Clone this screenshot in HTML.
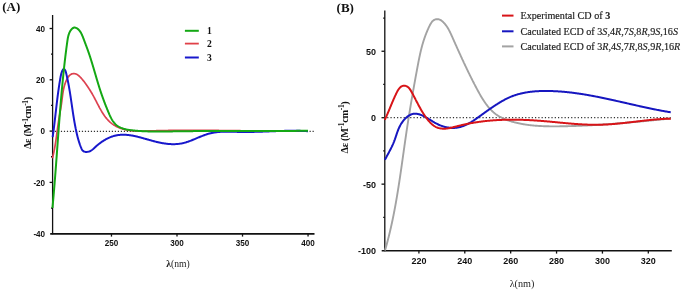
<!DOCTYPE html>
<html><head><meta charset="utf-8"><style>
html,body{margin:0;padding:0;background:#fff;}
body{width:685px;height:295px;overflow:hidden;font-family:"Liberation Sans",sans-serif;}
svg{display:block;will-change:transform;}
</style></head><body>
<svg width="685" height="295" viewBox="0 0 685 295">
<g stroke="#111" stroke-width="1.3" fill="none" stroke-linecap="butt">
<line x1="52.6" y1="15" x2="52.6" y2="234.3"/>
<line x1="50.2" y1="233.85" x2="314.5" y2="233.85" stroke-width="1.6"/>
<line x1="49.60" y1="28.50" x2="52.60" y2="28.50"/><line x1="49.60" y1="79.80" x2="52.60" y2="79.80"/><line x1="49.60" y1="131.10" x2="52.60" y2="131.10"/><line x1="49.60" y1="182.40" x2="52.60" y2="182.40"/>
<line x1="51.00" y1="54.15" x2="52.60" y2="54.15"/><line x1="51.00" y1="105.45" x2="52.60" y2="105.45"/><line x1="51.00" y1="156.75" x2="52.60" y2="156.75"/><line x1="51.00" y1="208.05" x2="52.60" y2="208.05"/>
<line x1="111.47" y1="233.80" x2="111.47" y2="236.60"/><line x1="177.00" y1="233.80" x2="177.00" y2="236.60"/><line x1="242.52" y1="233.80" x2="242.52" y2="236.60"/><line x1="308.05" y1="233.80" x2="308.05" y2="236.60"/>
</g>
<line x1="51.9" y1="131.35" x2="313.8" y2="131.35" stroke="#333" stroke-width="1.2" stroke-dasharray="1.2,1.796"/>
<path d="M52.42,158.29 L52.57,157.71 L52.72,157.13 L52.86,156.55 L53.01,155.96 L53.15,155.38 L53.28,154.80 L53.42,154.21 L53.55,153.63 L53.68,153.04 L53.80,152.46 L53.93,151.87 L54.05,151.28 L54.16,150.70 L54.28,150.11 L54.39,149.52 L54.50,148.93 L54.61,148.34 L54.72,147.75 L54.82,147.16 L54.93,146.57 L55.03,145.98 L55.13,145.39 L55.22,144.80 L55.32,144.21 L55.41,143.61 L55.51,143.02 L55.60,142.43 L55.69,141.84 L55.78,141.25 L55.86,140.65 L55.95,140.06 L56.04,139.47 L56.12,138.87 L56.20,138.28 L56.29,137.69 L56.37,137.09 L56.45,136.50 L56.53,135.90 L56.61,135.31 L56.69,134.72 L56.77,134.12 L56.85,133.53 L56.93,132.93 L57.01,132.34 L57.09,131.75 L57.16,131.15 L57.24,130.56 L57.32,129.96 L57.40,129.37 L57.48,128.78 L57.56,128.18 L57.64,127.59 L57.72,127.00 L57.81,126.40 L57.89,125.81 L57.97,125.21 L58.06,124.62 L58.14,124.03 L58.23,123.44 L58.32,122.84 L58.40,122.25 L58.49,121.66 L58.58,121.06 L58.68,120.47 L58.77,119.88 L58.87,119.29 L58.96,118.70 L59.06,118.11 L59.16,117.52 L59.26,116.92 L59.36,116.33 L59.46,115.74 L59.57,115.15 L59.67,114.56 L59.77,113.97 L59.88,113.38 L59.98,112.79 L60.08,112.20 L60.19,111.61 L60.29,111.02 L60.39,110.43 L60.49,109.84 L60.60,109.25 L60.70,108.66 L60.80,108.07 L60.89,107.48 L60.99,106.89 L61.09,106.29 L61.18,105.70 L61.27,105.11 L61.36,104.52 L61.45,103.92 L61.54,103.33 L61.62,102.74 L61.70,102.14 L61.78,101.55 L61.86,100.96 L61.94,100.36 L62.01,99.77 L62.08,99.17 L62.16,98.58 L62.23,97.98 L62.30,97.39 L62.38,96.79 L62.45,96.20 L62.53,95.60 L62.61,95.01 L62.69,94.42 L62.78,93.82 L62.86,93.23 L62.96,92.64 L63.05,92.05 L63.15,91.46 L63.25,90.87 L63.36,90.28 L63.48,89.69 L63.60,89.10 L63.73,88.52 L63.86,87.93 L64.00,87.35 L64.14,86.77 L64.30,86.19 L64.46,85.61 L64.63,85.04 L64.81,84.46 L64.99,83.89 L65.19,83.33 L65.39,82.76 L65.60,82.20 L65.82,81.64 L66.04,81.09 L66.28,80.54 L66.53,79.99 L66.79,79.45 L67.06,78.92 L67.35,78.39 L67.65,77.88 L67.97,77.37 L68.31,76.87 L68.67,76.40 L69.05,75.93 L69.46,75.50 L69.90,75.09 L70.37,74.71 L70.86,74.38 L71.39,74.10 L71.95,73.88 L72.53,73.72 L73.12,73.63 L73.72,73.59 L74.32,73.62 L74.91,73.71 L75.49,73.85 L76.06,74.05 L76.60,74.29 L77.13,74.57 L77.64,74.89 L78.13,75.23 L78.60,75.60 L79.06,75.99 L79.51,76.39 L79.94,76.80 L80.36,77.23 L80.77,77.66 L81.18,78.11 L81.57,78.56 L81.96,79.01 L82.35,79.47 L82.73,79.94 L83.10,80.40 L83.48,80.87 L83.85,81.34 L84.22,81.81 L84.58,82.29 L84.94,82.77 L85.30,83.25 L85.66,83.73 L86.01,84.21 L86.36,84.70 L86.71,85.19 L87.05,85.68 L87.39,86.17 L87.73,86.67 L88.07,87.16 L88.40,87.66 L88.73,88.16 L89.05,88.67 L89.38,89.17 L89.70,89.68 L90.01,90.19 L90.33,90.70 L90.64,91.21 L90.95,91.72 L91.25,92.24 L91.56,92.75 L91.86,93.27 L92.16,93.79 L92.45,94.31 L92.75,94.84 L93.04,95.36 L93.33,95.88 L93.62,96.41 L93.90,96.94 L94.19,97.46 L94.47,97.99 L94.75,98.52 L95.03,99.05 L95.31,99.58 L95.59,100.11 L95.86,100.64 L96.14,101.18 L96.41,101.71 L96.69,102.24 L96.96,102.77 L97.24,103.31 L97.51,103.84 L97.79,104.37 L98.06,104.90 L98.34,105.43 L98.62,105.96 L98.90,106.49 L99.18,107.02 L99.47,107.55 L99.75,108.08 L100.04,108.60 L100.33,109.13 L100.62,109.65 L100.92,110.17 L101.22,110.69 L101.53,111.20 L101.83,111.72 L102.14,112.23 L102.46,112.74 L102.78,113.25 L103.10,113.75 L103.43,114.25 L103.77,114.75 L104.11,115.24 L104.45,115.73 L104.80,116.22 L105.16,116.70 L105.52,117.18 L105.89,117.65 L106.27,118.12 L106.65,118.58 L107.04,119.03 L107.44,119.48 L107.84,119.93 L108.25,120.36 L108.67,120.79 L109.09,121.21 L109.53,121.63 L109.97,122.03 L110.42,122.43 L110.88,122.82 L111.34,123.19 L111.81,123.56 L112.29,123.92 L112.78,124.27 L113.28,124.61 L113.78,124.93 L114.29,125.25 L114.80,125.56 L115.32,125.86 L115.84,126.15 L116.37,126.43 L116.91,126.70 L117.45,126.96 L117.99,127.21 L118.54,127.46 L119.09,127.69 L119.65,127.91 L120.21,128.13 L120.77,128.34 L121.33,128.54 L121.90,128.73 L122.47,128.91 L123.05,129.08 L123.62,129.25 L124.20,129.41 L124.78,129.56 L125.36,129.70 L125.95,129.83 L126.53,129.95 L127.12,130.07 L127.71,130.18 L128.30,130.28 L128.89,130.38 L129.48,130.47 L130.08,130.55 L130.67,130.63 L131.27,130.70 L131.86,130.76 L132.46,130.82 L133.06,130.87 L133.65,130.92 L134.25,130.96 L134.85,131.00 L135.45,131.03 L136.05,131.06 L136.65,131.08 L137.24,131.10 L137.84,131.11 L138.44,131.13 L139.04,131.13 L139.64,131.14 L140.24,131.14 L140.84,131.14 L141.44,131.13 L142.04,131.13 L142.64,131.12 L143.24,131.11 L143.84,131.10 L144.44,131.08 L145.03,131.07 L145.63,131.05 L146.23,131.03 L146.83,131.01 L147.43,130.99 L148.03,130.97 L148.63,130.95 L149.23,130.93 L149.83,130.91 L150.43,130.89 L151.02,130.87 L151.62,130.86 L152.22,130.84 L152.82,130.82 L153.42,130.80 L154.02,130.78 L154.62,130.77 L155.22,130.75 L155.82,130.73 L156.42,130.72 L157.01,130.70 L157.61,130.69 L158.21,130.67 L158.81,130.66 L159.41,130.64 L160.01,130.63 L160.61,130.62 L161.21,130.60 L161.81,130.59 L162.41,130.58 L163.01,130.57 L163.60,130.55 L164.20,130.54 L164.80,130.53 L165.40,130.52 L166.00,130.51 L166.60,130.50 L167.20,130.49 L167.80,130.48 L168.40,130.47 L169.00,130.46 L169.60,130.45 L170.20,130.44 L170.79,130.43 L171.39,130.43 L171.99,130.42 L172.59,130.41 L173.19,130.40 L173.79,130.40 L174.39,130.39 L174.99,130.38 L175.59,130.38 L176.19,130.37 L176.79,130.37 L177.39,130.36 L177.99,130.35 L178.58,130.35 L179.18,130.35 L179.78,130.34 L180.38,130.34 L180.98,130.33 L181.58,130.33 L182.18,130.33 L182.78,130.32 L183.38,130.32 L183.98,130.32 L184.58,130.32 L185.18,130.31 L185.78,130.31 L186.38,130.31 L186.97,130.31 L187.57,130.31 L188.17,130.31 L188.77,130.30 L189.37,130.30 L189.97,130.30 L190.57,130.30 L191.17,130.30 L191.77,130.30 L192.37,130.30 L192.97,130.30 L193.57,130.30 L194.17,130.31 L194.77,130.31 L195.36,130.31 L195.96,130.31 L196.56,130.31 L197.16,130.31 L197.76,130.31 L198.36,130.32 L198.96,130.32 L199.56,130.32 L200.16,130.32 L200.76,130.33 L201.36,130.33 L201.96,130.33 L202.56,130.34 L203.15,130.34 L203.75,130.34 L204.35,130.35 L204.95,130.35 L205.55,130.35 L206.15,130.36 L206.75,130.36 L207.35,130.37 L207.95,130.37 L208.55,130.38 L209.15,130.38 L209.75,130.38 L210.35,130.39 L210.95,130.39 L211.54,130.40 L212.14,130.40 L212.74,130.41 L213.34,130.42 L213.94,130.42 L214.54,130.43 L215.14,130.43 L215.74,130.44 L216.34,130.44 L216.94,130.45 L217.54,130.46 L218.14,130.46 L218.74,130.47 L219.33,130.48 L219.93,130.48 L220.53,130.49 L221.13,130.49 L221.73,130.50 L222.33,130.51 L222.93,130.51 L223.53,130.52 L224.13,130.53 L224.73,130.53 L225.33,130.54 L225.93,130.55 L226.53,130.56 L227.12,130.56 L227.72,130.57 L228.32,130.58 L228.92,130.58 L229.52,130.59 L230.12,130.60 L230.72,130.61 L231.32,130.61 L231.92,130.62 L232.52,130.63 L233.12,130.63 L233.72,130.64 L234.32,130.65 L234.91,130.66 L235.51,130.66 L236.11,130.67 L236.71,130.68 L237.31,130.69 L237.91,130.69 L238.51,130.70 L239.11,130.71 L239.71,130.72 L240.31,130.72 L240.91,130.73 L241.51,130.74 L242.11,130.74 L242.70,130.75 L243.30,130.76 L243.90,130.77 L244.50,130.77 L245.10,130.78 L245.70,130.79 L246.30,130.79 L246.90,130.80 L247.50,130.81 L248.10,130.81 L248.70,130.82 L249.30,130.83 L249.90,130.83 L250.49,130.84 L251.09,130.85 L251.69,130.85 L252.29,130.86 L252.89,130.87 L253.49,130.87 L254.09,130.88 L254.69,130.88 L255.29,130.89 L255.89,130.90 L256.49,130.90 L257.09,130.91 L257.69,130.91 L258.28,130.92 L258.88,130.92 L259.48,130.93 L260.08,130.93 L260.68,130.94 L261.28,130.94 L261.88,130.95 L262.48,130.95 L263.08,130.96 L263.68,130.96 L264.28,130.97 L264.88,130.97 L265.48,130.97 L266.07,130.98 L266.67,130.98 L267.27,130.99 L267.87,130.99 L268.47,130.99 L269.07,131.00 L269.67,131.00 L270.27,131.00 L270.87,131.00 L271.47,131.01 L272.07,131.01 L272.67,131.01 L273.27,131.01 L273.87,131.02 L274.46,131.02 L275.06,131.02 L275.66,131.02 L276.26,131.02 L276.86,131.02 L277.46,131.02 L278.06,131.02 L278.66,131.02 L279.26,131.02 L279.86,131.02 L280.46,131.02 L281.06,131.02 L281.66,131.02 L282.26,131.02 L282.85,131.02 L283.45,131.02 L284.05,131.02 L284.65,131.02 L285.25,131.02 L285.85,131.01 L286.45,131.01 L287.05,131.01 L287.65,131.01 L288.25,131.00 L288.85,131.00 L289.45,131.00 L290.05,130.99 L290.64,130.99 L291.24,130.99 L291.84,130.98 L292.44,130.98 L293.04,130.97 L293.64,130.97 L294.24,130.96 L294.84,130.96 L295.44,130.95 L296.04,130.94 L296.64,130.94 L297.24,130.93 L297.84,130.92 L298.43,130.92 L299.03,130.91 L299.63,130.90 L300.23,130.89 L300.83,130.88 L301.43,130.88 L302.03,130.87 L302.63,130.86 L303.23,130.85 L303.83,130.84 L304.43,130.83 L305.03,130.82 L305.63,130.81 L306.22,130.80 L306.82,130.78 L307.42,130.77 L308.02,130.76" stroke="#dd4250" stroke-width="1.7" fill="none"/>
<path d="M52.65,137.05 L52.74,136.46 L52.82,135.87 L52.91,135.27 L52.99,134.68 L53.07,134.08 L53.16,133.49 L53.24,132.90 L53.32,132.30 L53.40,131.71 L53.48,131.11 L53.56,130.52 L53.63,129.92 L53.71,129.33 L53.79,128.73 L53.86,128.14 L53.94,127.54 L54.01,126.95 L54.09,126.35 L54.16,125.76 L54.23,125.16 L54.31,124.57 L54.38,123.97 L54.45,123.38 L54.52,122.78 L54.59,122.19 L54.67,121.59 L54.74,121.00 L54.81,120.40 L54.88,119.80 L54.95,119.21 L55.01,118.61 L55.08,118.02 L55.15,117.42 L55.22,116.83 L55.29,116.23 L55.36,115.64 L55.43,115.04 L55.49,114.44 L55.56,113.85 L55.63,113.25 L55.70,112.66 L55.77,112.06 L55.84,111.46 L55.90,110.87 L55.97,110.27 L56.04,109.68 L56.11,109.08 L56.18,108.49 L56.25,107.89 L56.31,107.29 L56.38,106.70 L56.45,106.10 L56.52,105.51 L56.59,104.91 L56.66,104.32 L56.73,103.72 L56.80,103.12 L56.87,102.53 L56.95,101.93 L57.02,101.34 L57.09,100.74 L57.16,100.15 L57.24,99.55 L57.31,98.96 L57.38,98.36 L57.46,97.77 L57.53,97.17 L57.61,96.58 L57.69,95.98 L57.76,95.39 L57.84,94.79 L57.92,94.20 L58.00,93.60 L58.08,93.01 L58.16,92.42 L58.24,91.82 L58.32,91.23 L58.40,90.63 L58.49,90.04 L58.57,89.45 L58.66,88.85 L58.74,88.26 L58.83,87.67 L58.92,87.07 L59.00,86.48 L59.09,85.89 L59.18,85.29 L59.28,84.70 L59.37,84.11 L59.46,83.52 L59.56,82.92 L59.65,82.33 L59.75,81.74 L59.85,81.15 L59.95,80.56 L60.05,79.97 L60.15,79.38 L60.25,78.78 L60.35,78.19 L60.46,77.60 L60.56,77.01 L60.67,76.42 L60.79,75.84 L60.91,75.25 L61.04,74.66 L61.19,74.08 L61.34,73.50 L61.51,72.93 L61.70,72.36 L61.90,71.79 L62.13,71.24 L62.37,70.69 L62.65,70.16 L62.97,69.65 L63.39,69.23 L63.96,69.13 L64.48,69.42 L64.89,69.85 L65.22,70.36 L65.47,70.90 L65.68,71.46 L65.85,72.04 L66.01,72.62 L66.15,73.20 L66.29,73.78 L66.43,74.37 L66.57,74.95 L66.70,75.53 L66.83,76.12 L66.96,76.70 L67.09,77.29 L67.22,77.88 L67.35,78.46 L67.47,79.05 L67.59,79.64 L67.72,80.22 L67.84,80.81 L67.95,81.40 L68.07,81.99 L68.19,82.58 L68.30,83.16 L68.41,83.75 L68.52,84.34 L68.63,84.93 L68.74,85.52 L68.85,86.11 L68.95,86.70 L69.06,87.29 L69.16,87.88 L69.26,88.47 L69.36,89.07 L69.46,89.66 L69.56,90.25 L69.66,90.84 L69.76,91.43 L69.86,92.02 L69.95,92.61 L70.05,93.21 L70.14,93.80 L70.23,94.39 L70.33,94.98 L70.42,95.58 L70.51,96.17 L70.60,96.76 L70.69,97.36 L70.78,97.95 L70.87,98.54 L70.95,99.13 L71.04,99.73 L71.13,100.32 L71.22,100.91 L71.30,101.51 L71.39,102.10 L71.48,102.69 L71.56,103.29 L71.65,103.88 L71.74,104.47 L71.82,105.07 L71.91,105.66 L72.00,106.25 L72.08,106.85 L72.17,107.44 L72.26,108.04 L72.34,108.63 L72.43,109.22 L72.52,109.82 L72.60,110.41 L72.69,111.00 L72.78,111.59 L72.87,112.19 L72.96,112.78 L73.05,113.37 L73.14,113.97 L73.23,114.56 L73.32,115.15 L73.42,115.74 L73.51,116.34 L73.61,116.93 L73.70,117.52 L73.80,118.11 L73.89,118.70 L73.99,119.30 L74.09,119.89 L74.19,120.48 L74.29,121.07 L74.39,121.66 L74.50,122.25 L74.60,122.84 L74.71,123.43 L74.82,124.02 L74.92,124.61 L75.03,125.20 L75.15,125.79 L75.26,126.38 L75.37,126.97 L75.49,127.56 L75.61,128.14 L75.72,128.73 L75.85,129.32 L75.97,129.91 L76.09,130.49 L76.22,131.08 L76.34,131.67 L76.47,132.25 L76.60,132.84 L76.74,133.42 L76.87,134.01 L77.01,134.59 L77.15,135.17 L77.30,135.75 L77.44,136.34 L77.59,136.92 L77.74,137.50 L77.90,138.08 L78.06,138.65 L78.22,139.23 L78.39,139.81 L78.56,140.38 L78.73,140.96 L78.91,141.53 L79.09,142.10 L79.27,142.67 L79.46,143.24 L79.66,143.81 L79.85,144.37 L80.06,144.94 L80.26,145.50 L80.48,146.06 L80.69,146.62 L80.92,147.18 L81.14,147.73 L81.38,148.29 L81.61,148.84 L81.87,149.38 L82.16,149.90 L82.50,150.40 L82.90,150.84 L83.38,151.20 L83.91,151.47 L84.48,151.66 L85.07,151.80 L85.66,151.88 L86.26,151.92 L86.86,151.91 L87.46,151.87 L88.05,151.78 L88.63,151.64 L89.21,151.47 L89.77,151.25 L90.31,151.00 L90.84,150.71 L91.35,150.40 L91.84,150.06 L92.32,149.70 L92.79,149.33 L93.25,148.94 L93.70,148.54 L94.14,148.14 L94.58,147.73 L95.02,147.33 L95.46,146.92 L95.91,146.51 L96.35,146.11 L96.80,145.72 L97.26,145.33 L97.72,144.94 L98.18,144.56 L98.65,144.18 L99.12,143.81 L99.59,143.45 L100.07,143.09 L100.56,142.73 L101.04,142.38 L101.53,142.04 L102.03,141.70 L102.53,141.36 L103.03,141.04 L103.54,140.72 L104.05,140.40 L104.56,140.09 L105.08,139.79 L105.60,139.49 L106.13,139.21 L106.66,138.92 L107.19,138.65 L107.72,138.38 L108.26,138.12 L108.81,137.87 L109.36,137.62 L109.91,137.39 L110.46,137.16 L111.02,136.94 L111.58,136.73 L112.15,136.53 L112.72,136.34 L113.29,136.16 L113.86,135.99 L114.44,135.83 L115.02,135.68 L115.60,135.54 L116.19,135.41 L116.78,135.29 L117.37,135.19 L117.96,135.10 L118.55,135.01 L119.15,134.94 L119.75,134.88 L120.34,134.83 L120.94,134.78 L121.54,134.75 L122.14,134.73 L122.74,134.72 L123.34,134.72 L123.94,134.72 L124.54,134.74 L125.14,134.76 L125.74,134.79 L126.34,134.83 L126.93,134.88 L127.53,134.93 L128.13,134.99 L128.72,135.06 L129.32,135.14 L129.91,135.22 L130.51,135.30 L131.10,135.40 L131.69,135.49 L132.28,135.60 L132.87,135.71 L133.46,135.82 L134.05,135.94 L134.63,136.06 L135.22,136.19 L135.81,136.32 L136.39,136.45 L136.97,136.59 L137.56,136.73 L138.14,136.87 L138.72,137.02 L139.30,137.17 L139.88,137.32 L140.46,137.47 L141.04,137.63 L141.62,137.78 L142.20,137.94 L142.78,138.10 L143.35,138.26 L143.93,138.43 L144.51,138.59 L145.08,138.75 L145.66,138.92 L146.24,139.08 L146.81,139.25 L147.39,139.42 L147.97,139.58 L148.54,139.75 L149.12,139.91 L149.70,140.07 L150.27,140.24 L150.85,140.40 L151.43,140.56 L152.01,140.72 L152.58,140.88 L153.16,141.03 L153.74,141.19 L154.32,141.34 L154.90,141.49 L155.49,141.64 L156.07,141.78 L156.65,141.92 L157.23,142.06 L157.82,142.19 L158.40,142.33 L158.99,142.46 L159.58,142.58 L160.16,142.70 L160.75,142.82 L161.34,142.94 L161.93,143.05 L162.52,143.15 L163.11,143.25 L163.70,143.35 L164.29,143.44 L164.89,143.53 L165.48,143.61 L166.08,143.69 L166.67,143.76 L167.27,143.83 L167.86,143.89 L168.46,143.95 L169.06,144.00 L169.66,144.04 L170.25,144.08 L170.85,144.11 L171.45,144.14 L172.05,144.16 L172.65,144.17 L173.25,144.17 L173.85,144.17 L174.45,144.16 L175.05,144.14 L175.65,144.12 L176.25,144.08 L176.85,144.04 L177.44,144.00 L178.04,143.94 L178.64,143.87 L179.23,143.80 L179.83,143.72 L180.42,143.63 L181.01,143.53 L181.60,143.42 L182.19,143.31 L182.77,143.18 L183.36,143.05 L183.94,142.90 L184.52,142.75 L185.10,142.59 L185.68,142.43 L186.25,142.25 L186.82,142.07 L187.39,141.89 L187.96,141.69 L188.53,141.50 L189.09,141.29 L189.65,141.09 L190.22,140.88 L190.78,140.66 L191.33,140.45 L191.89,140.22 L192.45,140.00 L193.00,139.77 L193.56,139.55 L194.11,139.32 L194.67,139.09 L195.22,138.85 L195.77,138.62 L196.32,138.39 L196.88,138.15 L197.43,137.92 L197.98,137.68 L198.53,137.45 L199.09,137.22 L199.64,136.99 L200.19,136.76 L200.75,136.53 L201.30,136.31 L201.86,136.09 L202.42,135.87 L202.98,135.65 L203.54,135.44 L204.10,135.23 L204.66,135.02 L205.23,134.82 L205.80,134.63 L206.37,134.44 L206.94,134.25 L207.51,134.08 L208.08,133.90 L208.66,133.74 L209.24,133.58 L209.82,133.43 L210.40,133.29 L210.99,133.15 L211.57,133.03 L212.16,132.90 L212.75,132.79 L213.34,132.68 L213.93,132.58 L214.52,132.49 L215.11,132.40 L215.71,132.32 L216.30,132.24 L216.90,132.17 L217.49,132.10 L218.09,132.05 L218.69,131.99 L219.29,131.94 L219.88,131.90 L220.48,131.86 L221.08,131.82 L221.68,131.79 L222.28,131.76 L222.88,131.74 L223.48,131.72 L224.08,131.71 L224.68,131.69 L225.28,131.68 L225.88,131.68 L226.48,131.67 L227.08,131.67 L227.68,131.68 L228.27,131.68 L228.87,131.68 L229.47,131.69 L230.07,131.70 L230.67,131.71 L231.27,131.72 L231.87,131.74 L232.47,131.75 L233.07,131.77 L233.67,131.78 L234.27,131.80 L234.87,131.82 L235.47,131.83 L236.07,131.85 L236.67,131.87 L237.27,131.88 L237.87,131.90 L238.47,131.91 L239.07,131.93 L239.67,131.94 L240.26,131.95 L240.86,131.96 L241.46,131.97 L242.06,131.98 L242.66,131.98 L243.26,131.99 L243.86,131.99 L244.46,131.99 L245.06,131.99 L245.66,131.99 L246.26,131.99 L246.86,131.99 L247.46,131.98 L248.06,131.98 L248.66,131.97 L249.26,131.97 L249.86,131.96 L250.46,131.95 L251.06,131.94 L251.66,131.93 L252.26,131.92 L252.86,131.91 L253.46,131.90 L254.06,131.88 L254.66,131.87 L255.26,131.85 L255.85,131.84 L256.45,131.82 L257.05,131.80 L257.65,131.79 L258.25,131.77 L258.85,131.75 L259.45,131.73 L260.05,131.71 L260.65,131.69 L261.25,131.67 L261.85,131.65 L262.45,131.63 L263.05,131.61 L263.65,131.59 L264.25,131.56 L264.85,131.54 L265.44,131.52 L266.04,131.50 L266.64,131.47 L267.24,131.45 L267.84,131.43 L268.44,131.40 L269.04,131.38 L269.64,131.36 L270.24,131.33 L270.84,131.31 L271.44,131.29 L272.04,131.27 L272.64,131.24 L273.23,131.22 L273.83,131.20 L274.43,131.18 L275.03,131.15 L275.63,131.13 L276.23,131.11 L276.83,131.09 L277.43,131.07 L278.03,131.05 L278.63,131.03 L279.23,131.01 L279.83,130.99 L280.43,130.97 L281.03,130.96 L281.63,130.94 L282.22,130.92 L282.82,130.91 L283.42,130.89 L284.02,130.88 L284.62,130.86 L285.22,130.85 L285.82,130.84 L286.42,130.83 L287.02,130.82 L287.62,130.81 L288.22,130.80 L288.82,130.79 L289.42,130.78 L290.02,130.78 L290.62,130.77 L291.22,130.77 L291.82,130.77 L292.42,130.76 L293.02,130.76 L293.62,130.77 L294.22,130.77 L294.82,130.77 L295.42,130.77 L296.02,130.78 L296.62,130.79 L297.21,130.80 L297.81,130.81 L298.41,130.82 L299.01,130.83 L299.61,130.84 L300.21,130.86 L300.81,130.88 L301.41,130.89 L302.01,130.91 L302.61,130.94 L303.21,130.96 L303.81,130.98 L304.41,131.01 L305.01,131.04 L305.61,131.07 L306.20,131.10 L306.80,131.13 L307.40,131.17 L308.00,131.20" stroke="#1818cc" stroke-width="2" fill="none"/>
<path d="M52.46,207.98 L52.51,207.38 L52.57,206.79 L52.62,206.19 L52.68,205.59 L52.73,205.00 L52.79,204.40 L52.84,203.80 L52.90,203.20 L52.95,202.61 L53.01,202.01 L53.06,201.41 L53.11,200.81 L53.17,200.22 L53.22,199.62 L53.27,199.02 L53.33,198.43 L53.38,197.83 L53.43,197.23 L53.48,196.63 L53.54,196.04 L53.59,195.44 L53.64,194.84 L53.69,194.24 L53.74,193.65 L53.79,193.05 L53.84,192.45 L53.89,191.85 L53.94,191.26 L54.00,190.66 L54.05,190.06 L54.10,189.46 L54.14,188.87 L54.19,188.27 L54.24,187.67 L54.29,187.07 L54.34,186.47 L54.39,185.88 L54.44,185.28 L54.49,184.68 L54.54,184.08 L54.59,183.49 L54.63,182.89 L54.68,182.29 L54.73,181.69 L54.78,181.10 L54.82,180.50 L54.87,179.90 L54.92,179.30 L54.97,178.70 L55.01,178.11 L55.06,177.51 L55.11,176.91 L55.15,176.31 L55.20,175.71 L55.25,175.12 L55.29,174.52 L55.34,173.92 L55.39,173.32 L55.43,172.73 L55.48,172.13 L55.52,171.53 L55.57,170.93 L55.62,170.33 L55.66,169.74 L55.71,169.14 L55.75,168.54 L55.80,167.94 L55.84,167.34 L55.89,166.75 L55.93,166.15 L55.98,165.55 L56.02,164.95 L56.07,164.35 L56.11,163.76 L56.16,163.16 L56.20,162.56 L56.25,161.96 L56.29,161.36 L56.33,160.77 L56.38,160.17 L56.42,159.57 L56.47,158.97 L56.51,158.37 L56.56,157.78 L56.60,157.18 L56.64,156.58 L56.69,155.98 L56.73,155.38 L56.78,154.78 L56.82,154.19 L56.86,153.59 L56.91,152.99 L56.95,152.39 L57.00,151.79 L57.04,151.20 L57.08,150.60 L57.13,150.00 L57.17,149.40 L57.21,148.80 L57.26,148.21 L57.30,147.61 L57.35,147.01 L57.39,146.41 L57.43,145.81 L57.48,145.22 L57.52,144.62 L57.56,144.02 L57.61,143.42 L57.65,142.82 L57.70,142.23 L57.74,141.63 L57.78,141.03 L57.83,140.43 L57.87,139.83 L57.92,139.23 L57.96,138.64 L58.00,138.04 L58.05,137.44 L58.09,136.84 L58.14,136.24 L58.18,135.65 L58.22,135.05 L58.27,134.45 L58.31,133.85 L58.36,133.25 L58.40,132.66 L58.45,132.06 L58.49,131.46 L58.53,130.86 L58.58,130.26 L58.62,129.67 L58.67,129.07 L58.71,128.47 L58.76,127.87 L58.80,127.27 L58.85,126.68 L58.89,126.08 L58.94,125.48 L58.98,124.88 L59.03,124.28 L59.07,123.69 L59.12,123.09 L59.17,122.49 L59.21,121.89 L59.26,121.29 L59.30,120.70 L59.35,120.10 L59.40,119.50 L59.44,118.90 L59.49,118.31 L59.53,117.71 L59.58,117.11 L59.63,116.51 L59.67,115.91 L59.72,115.32 L59.77,114.72 L59.82,114.12 L59.86,113.52 L59.91,112.92 L59.96,112.33 L60.01,111.73 L60.05,111.13 L60.10,110.53 L60.15,109.94 L60.20,109.34 L60.25,108.74 L60.30,108.14 L60.34,107.54 L60.39,106.95 L60.44,106.35 L60.49,105.75 L60.54,105.15 L60.59,104.56 L60.64,103.96 L60.69,103.36 L60.74,102.76 L60.79,102.17 L60.84,101.57 L60.89,100.97 L60.94,100.37 L60.99,99.78 L61.04,99.18 L61.10,98.58 L61.15,97.98 L61.20,97.39 L61.25,96.79 L61.30,96.19 L61.36,95.59 L61.41,95.00 L61.46,94.40 L61.51,93.80 L61.57,93.20 L61.62,92.61 L61.67,92.01 L61.73,91.41 L61.78,90.82 L61.84,90.22 L61.89,89.62 L61.94,89.02 L62.00,88.43 L62.06,87.83 L62.11,87.23 L62.17,86.64 L62.22,86.04 L62.28,85.44 L62.33,84.84 L62.39,84.25 L62.45,83.65 L62.51,83.05 L62.56,82.46 L62.62,81.86 L62.68,81.26 L62.74,80.67 L62.79,80.07 L62.85,79.47 L62.91,78.88 L62.97,78.28 L63.03,77.68 L63.09,77.09 L63.15,76.49 L63.21,75.89 L63.27,75.30 L63.33,74.70 L63.39,74.10 L63.46,73.51 L63.52,72.91 L63.58,72.31 L63.64,71.72 L63.71,71.12 L63.77,70.52 L63.83,69.93 L63.90,69.33 L63.96,68.73 L64.02,68.14 L64.09,67.54 L64.15,66.95 L64.22,66.35 L64.29,65.75 L64.35,65.16 L64.42,64.56 L64.49,63.97 L64.55,63.37 L64.62,62.77 L64.69,62.18 L64.76,61.58 L64.83,60.99 L64.90,60.39 L64.96,59.80 L65.03,59.20 L65.11,58.60 L65.18,58.01 L65.25,57.41 L65.32,56.82 L65.39,56.22 L65.46,55.63 L65.54,55.03 L65.61,54.44 L65.68,53.84 L65.76,53.25 L65.83,52.65 L65.91,52.06 L65.98,51.46 L66.06,50.87 L66.13,50.27 L66.21,49.68 L66.29,49.08 L66.36,48.49 L66.44,47.89 L66.52,47.30 L66.60,46.70 L66.68,46.11 L66.76,45.52 L66.84,44.92 L66.92,44.33 L67.00,43.73 L67.08,43.14 L67.16,42.54 L67.25,41.95 L67.33,41.36 L67.41,40.76 L67.50,40.17 L67.59,39.58 L67.69,38.99 L67.79,38.39 L67.90,37.81 L68.02,37.22 L68.15,36.63 L68.29,36.05 L68.45,35.47 L68.62,34.89 L68.80,34.32 L69.00,33.76 L69.21,33.20 L69.45,32.65 L69.70,32.10 L69.98,31.57 L70.27,31.05 L70.59,30.54 L70.93,30.04 L71.29,29.57 L71.69,29.12 L72.11,28.70 L72.58,28.32 L73.08,27.99 L73.63,27.75 L74.21,27.60 L74.81,27.58 L75.40,27.67 L75.97,27.85 L76.52,28.10 L77.04,28.39 L77.53,28.73 L78.00,29.10 L78.45,29.50 L78.87,29.93 L79.27,30.38 L79.65,30.84 L80.00,31.33 L80.34,31.82 L80.66,32.33 L80.96,32.85 L81.25,33.38 L81.52,33.91 L81.78,34.45 L82.04,34.99 L82.28,35.54 L82.51,36.09 L82.74,36.65 L82.96,37.20 L83.18,37.76 L83.40,38.32 L83.61,38.88 L83.81,39.45 L84.02,40.01 L84.23,40.57 L84.44,41.13 L84.65,41.69 L84.86,42.26 L85.07,42.82 L85.28,43.38 L85.49,43.94 L85.70,44.50 L85.92,45.06 L86.13,45.62 L86.34,46.19 L86.55,46.75 L86.76,47.31 L86.96,47.87 L87.17,48.43 L87.38,49.00 L87.58,49.56 L87.79,50.13 L87.99,50.69 L88.19,51.26 L88.39,51.82 L88.58,52.39 L88.78,52.95 L88.97,53.52 L89.17,54.09 L89.36,54.66 L89.55,55.23 L89.73,55.80 L89.92,56.37 L90.11,56.94 L90.29,57.51 L90.48,58.08 L90.66,58.65 L90.84,59.22 L91.02,59.79 L91.20,60.37 L91.38,60.94 L91.55,61.51 L91.73,62.08 L91.91,62.66 L92.08,63.23 L92.26,63.80 L92.43,64.38 L92.60,64.95 L92.78,65.53 L92.95,66.10 L93.12,66.68 L93.29,67.25 L93.46,67.83 L93.63,68.40 L93.80,68.98 L93.97,69.55 L94.14,70.13 L94.31,70.70 L94.48,71.28 L94.65,71.85 L94.82,72.43 L94.98,73.00 L95.15,73.58 L95.32,74.15 L95.49,74.73 L95.66,75.31 L95.83,75.88 L96.00,76.46 L96.17,77.03 L96.34,77.61 L96.50,78.18 L96.67,78.76 L96.85,79.33 L97.02,79.91 L97.19,80.48 L97.36,81.06 L97.53,81.63 L97.70,82.20 L97.88,82.78 L98.05,83.35 L98.23,83.93 L98.40,84.50 L98.58,85.07 L98.76,85.65 L98.93,86.22 L99.11,86.79 L99.29,87.36 L99.47,87.93 L99.65,88.51 L99.84,89.08 L100.02,89.65 L100.21,90.22 L100.39,90.79 L100.58,91.36 L100.77,91.93 L100.96,92.50 L101.15,93.06 L101.34,93.63 L101.54,94.20 L101.73,94.77 L101.93,95.33 L102.13,95.90 L102.33,96.46 L102.53,97.03 L102.73,97.59 L102.93,98.16 L103.14,98.72 L103.34,99.29 L103.55,99.85 L103.76,100.41 L103.97,100.97 L104.18,101.54 L104.39,102.10 L104.60,102.66 L104.81,103.22 L105.03,103.78 L105.25,104.34 L105.46,104.89 L105.68,105.45 L105.90,106.01 L106.12,106.57 L106.35,107.13 L106.57,107.68 L106.79,108.24 L107.02,108.79 L107.25,109.35 L107.47,109.90 L107.70,110.46 L107.93,111.01 L108.16,111.57 L108.39,112.12 L108.62,112.67 L108.86,113.22 L109.09,113.78 L109.33,114.33 L109.58,114.87 L109.82,115.42 L110.07,115.97 L110.33,116.51 L110.59,117.05 L110.86,117.58 L111.14,118.12 L111.42,118.64 L111.71,119.17 L112.01,119.69 L112.32,120.20 L112.64,120.71 L112.97,121.21 L113.32,121.70 L113.67,122.18 L114.04,122.65 L114.43,123.11 L114.82,123.56 L115.24,124.00 L115.67,124.41 L116.12,124.81 L116.58,125.20 L117.05,125.56 L117.54,125.91 L118.04,126.24 L118.55,126.56 L119.07,126.86 L119.60,127.14 L120.14,127.40 L120.68,127.65 L121.23,127.89 L121.79,128.11 L122.36,128.31 L122.92,128.51 L123.49,128.69 L124.07,128.86 L124.65,129.02 L125.23,129.17 L125.81,129.31 L126.40,129.43 L126.98,129.56 L127.57,129.67 L128.16,129.77 L128.76,129.87 L129.35,129.96 L129.94,130.05 L130.54,130.13 L131.13,130.21 L131.73,130.28 L132.32,130.35 L132.92,130.41 L133.51,130.47 L134.11,130.53 L134.71,130.59 L135.31,130.65 L135.90,130.70 L136.50,130.75 L137.10,130.80 L137.70,130.85 L138.29,130.89 L138.89,130.94 L139.49,130.98 L140.09,131.02 L140.69,131.06 L141.29,131.09 L141.88,131.13 L142.48,131.16 L143.08,131.19 L143.68,131.22 L144.28,131.25 L144.88,131.28 L145.48,131.30 L146.08,131.32 L146.68,131.35 L147.28,131.37 L147.88,131.39 L148.47,131.41 L149.07,131.42 L149.67,131.44 L150.27,131.45 L150.87,131.46 L151.47,131.48 L152.07,131.49 L152.67,131.50 L153.27,131.50 L153.87,131.51 L154.47,131.52 L155.07,131.52 L155.67,131.53 L156.27,131.53 L156.87,131.53 L157.47,131.53 L158.07,131.53 L158.67,131.53 L159.27,131.53 L159.87,131.53 L160.47,131.53 L161.07,131.52 L161.67,131.52 L162.27,131.52 L162.87,131.51 L163.47,131.50 L164.06,131.50 L164.66,131.49 L165.26,131.48 L165.86,131.48 L166.46,131.47 L167.06,131.46 L167.66,131.45 L168.26,131.44 L168.86,131.43 L169.46,131.43 L170.06,131.42 L170.66,131.41 L171.26,131.40 L171.86,131.39 L172.46,131.38 L173.06,131.37 L173.66,131.36 L174.26,131.35 L174.86,131.34 L175.46,131.33 L176.06,131.32 L176.66,131.31 L177.26,131.30 L177.86,131.29 L178.46,131.29 L179.06,131.28 L179.65,131.27 L180.25,131.26 L180.85,131.25 L181.45,131.25 L182.05,131.24 L182.65,131.23 L183.25,131.22 L183.85,131.22 L184.45,131.21 L185.05,131.20 L185.65,131.20 L186.25,131.19 L186.85,131.18 L187.45,131.18 L188.05,131.17 L188.65,131.16 L189.25,131.16 L189.85,131.15 L190.45,131.15 L191.05,131.14 L191.65,131.14 L192.25,131.13 L192.85,131.13 L193.45,131.12 L194.05,131.12 L194.65,131.11 L195.25,131.11 L195.85,131.10 L196.45,131.10 L197.04,131.09 L197.64,131.09 L198.24,131.08 L198.84,131.08 L199.44,131.08 L200.04,131.07 L200.64,131.07 L201.24,131.07 L201.84,131.06 L202.44,131.06 L203.04,131.06 L203.64,131.05 L204.24,131.05 L204.84,131.05 L205.44,131.04 L206.04,131.04 L206.64,131.04 L207.24,131.03 L207.84,131.03 L208.44,131.03 L209.04,131.03 L209.64,131.02 L210.24,131.02 L210.84,131.02 L211.44,131.02 L212.04,131.02 L212.64,131.01 L213.24,131.01 L213.84,131.01 L214.44,131.01 L215.03,131.01 L215.63,131.01 L216.23,131.00 L216.83,131.00 L217.43,131.00 L218.03,131.00 L218.63,131.00 L219.23,131.00 L219.83,131.00 L220.43,131.00 L221.03,130.99 L221.63,130.99 L222.23,130.99 L222.83,130.99 L223.43,130.99 L224.03,130.99 L224.63,130.99 L225.23,130.99 L225.83,130.99 L226.43,130.99 L227.03,130.99 L227.63,130.99 L228.23,130.99 L228.83,130.99 L229.43,130.99 L230.03,130.99 L230.63,130.98 L231.23,130.98 L231.83,130.98 L232.43,130.98 L233.03,130.98 L233.63,130.98 L234.22,130.98 L234.82,130.98 L235.42,130.98 L236.02,130.98 L236.62,130.98 L237.22,130.98 L237.82,130.98 L238.42,130.98 L239.02,130.98 L239.62,130.98 L240.22,130.98 L240.82,130.98 L241.42,130.98 L242.02,130.98 L242.62,130.98 L243.22,130.99 L243.82,130.99 L244.42,130.99 L245.02,130.99 L245.62,130.99 L246.22,130.99 L246.82,130.99 L247.42,130.99 L248.02,130.99 L248.62,130.99 L249.22,130.99 L249.82,130.99 L250.42,130.99 L251.02,130.99 L251.62,130.99 L252.22,130.99 L252.81,130.99 L253.41,130.99 L254.01,130.99 L254.61,130.99 L255.21,130.99 L255.81,130.99 L256.41,130.99 L257.01,130.99 L257.61,130.99 L258.21,130.99 L258.81,130.99 L259.41,130.99 L260.01,130.99 L260.61,130.99 L261.21,130.99 L261.81,130.99 L262.41,130.99 L263.01,130.99 L263.61,130.99 L264.21,130.99 L264.81,130.99 L265.41,130.99 L266.01,130.98 L266.61,130.98 L267.21,130.98 L267.81,130.98 L268.41,130.98 L269.01,130.98 L269.61,130.98 L270.21,130.98 L270.81,130.98 L271.40,130.98 L272.00,130.98 L272.60,130.98 L273.20,130.98 L273.80,130.97 L274.40,130.97 L275.00,130.97 L275.60,130.97 L276.20,130.97 L276.80,130.97 L277.40,130.97 L278.00,130.96 L278.60,130.96 L279.20,130.96 L279.80,130.96 L280.40,130.96 L281.00,130.95 L281.60,130.95 L282.20,130.95 L282.80,130.95 L283.40,130.95 L284.00,130.94 L284.60,130.94 L285.20,130.94 L285.80,130.94 L286.40,130.93 L287.00,130.93 L287.60,130.93 L288.20,130.92 L288.80,130.92 L289.40,130.92 L289.99,130.92 L290.59,130.91 L291.19,130.91 L291.79,130.90 L292.39,130.90 L292.99,130.90 L293.59,130.89 L294.19,130.89 L294.79,130.89 L295.39,130.88 L295.99,130.88 L296.59,130.87 L297.19,130.87 L297.79,130.86 L298.39,130.86 L298.99,130.85 L299.59,130.85 L300.19,130.84 L300.79,130.84 L301.39,130.83 L301.99,130.83 L302.59,130.82 L303.19,130.82 L303.79,130.81 L304.39,130.80 L304.99,130.80 L305.59,130.79 L306.19,130.79 L306.79,130.78 L307.39,130.77 L307.98,130.77" stroke="#14a814" stroke-width="2" fill="none"/>
<g stroke-width="2">
<line x1="184.9" y1="30.8" x2="198.8" y2="30.8" stroke="#14a814"/>
<line x1="184.9" y1="43.6" x2="198.8" y2="43.6" stroke="#e04048" stroke-width="1.8"/>
<line x1="184.9" y1="57.5" x2="198.8" y2="57.5" stroke="#1818cc"/>
</g>
<g font-family="Liberation Serif" font-weight="bold" font-size="9.6" fill="#111">
<text x="207" y="34.2">1</text><text x="207" y="47.2">2</text><text x="207" y="61.1">3</text>
</g>
<g font-family="Liberation Sans" font-weight="bold" font-size="8.1" fill="#111" text-anchor="end">
<text transform="translate(45.1,31.80) scale(1,1.08)">40</text>
<text transform="translate(45.1,83.10) scale(1,1.08)">20</text>
<text transform="translate(45.1,134.40) scale(1,1.08)">0</text>
<text transform="translate(45.1,185.70) scale(1,1.08)">-20</text>
<text transform="translate(45.1,237.00) scale(1,1.08)">-40</text>
</g>
<g font-family="Liberation Sans" font-weight="bold" font-size="8.1" fill="#111" text-anchor="middle">
<text transform="translate(111.47,245.7) scale(1,1.08)">250</text>
<text transform="translate(177.00,245.7) scale(1,1.08)">300</text>
<text transform="translate(242.52,245.7) scale(1,1.08)">350</text>
<text transform="translate(308.05,245.7) scale(1,1.08)">400</text>
</g>
<text x="2.2" y="11.1" font-family="Liberation Serif" font-weight="bold" font-size="13" fill="#111">(A)</text>
<text x="178" y="267.2" font-family="Liberation Serif" font-size="9.6" fill="#222" text-anchor="middle"><tspan font-weight="bold">λ</tspan>(nm)</text>
<text transform="translate(31.2,123.1) rotate(-90)" font-family="Liberation Serif" font-weight="bold" font-size="10.3" fill="#111" letter-spacing="-0.3" text-anchor="middle">Δε (M<tspan dy="-3.6" font-size="7.4">-1</tspan><tspan dy="3.6">cm</tspan><tspan dy="-3.6" font-size="7.4">-1</tspan><tspan dy="3.6">)</tspan></text>
<g stroke="#111" stroke-width="1.3" fill="none">
<line x1="384.8" y1="10.5" x2="384.8" y2="251.3"/>
<line x1="381.7" y1="250.8" x2="671.8" y2="250.8" stroke-width="1.6"/>
<line x1="381.50" y1="51.25" x2="384.80" y2="51.25"/><line x1="381.50" y1="117.70" x2="384.80" y2="117.70"/><line x1="381.50" y1="184.15" x2="384.80" y2="184.15"/>
<line x1="383.20" y1="18.03" x2="384.80" y2="18.03"/><line x1="383.20" y1="84.47" x2="384.80" y2="84.47"/><line x1="383.20" y1="150.93" x2="384.80" y2="150.93"/><line x1="383.20" y1="217.38" x2="384.80" y2="217.38"/>
<line x1="418.91" y1="250.80" x2="418.91" y2="253.60"/><line x1="464.79" y1="250.80" x2="464.79" y2="253.60"/><line x1="510.67" y1="250.80" x2="510.67" y2="253.60"/><line x1="556.55" y1="250.80" x2="556.55" y2="253.60"/><line x1="602.43" y1="250.80" x2="602.43" y2="253.60"/><line x1="648.31" y1="250.80" x2="648.31" y2="253.60"/>
</g>
<line x1="383.9" y1="117.55" x2="671" y2="117.55" stroke="#333" stroke-width="1.2" stroke-dasharray="1.2,2.085"/>
<path d="M384.98,250.51 L385.14,249.94 L385.31,249.36 L385.48,248.79 L385.64,248.21 L385.80,247.63 L385.97,247.06 L386.13,246.48 L386.29,245.90 L386.45,245.32 L386.61,244.75 L386.77,244.17 L386.92,243.59 L387.08,243.01 L387.23,242.43 L387.39,241.85 L387.54,241.27 L387.69,240.69 L387.84,240.11 L387.99,239.53 L388.14,238.95 L388.29,238.37 L388.44,237.79 L388.58,237.21 L388.73,236.63 L388.88,236.05 L389.02,235.47 L389.16,234.88 L389.30,234.30 L389.45,233.72 L389.59,233.14 L389.73,232.55 L389.87,231.97 L390.00,231.39 L390.14,230.80 L390.28,230.22 L390.41,229.64 L390.55,229.05 L390.68,228.47 L390.82,227.88 L390.95,227.30 L391.08,226.71 L391.21,226.13 L391.34,225.54 L391.47,224.96 L391.60,224.37 L391.73,223.79 L391.85,223.20 L391.98,222.62 L392.11,222.03 L392.23,221.44 L392.35,220.86 L392.48,220.27 L392.60,219.69 L392.72,219.10 L392.84,218.51 L392.97,217.92 L393.09,217.34 L393.20,216.75 L393.32,216.16 L393.44,215.57 L393.56,214.99 L393.68,214.40 L393.79,213.81 L393.91,213.22 L394.02,212.63 L394.14,212.05 L394.25,211.46 L394.36,210.87 L394.48,210.28 L394.59,209.69 L394.70,209.10 L394.81,208.51 L394.92,207.92 L395.03,207.33 L395.14,206.75 L395.25,206.16 L395.35,205.57 L395.46,204.98 L395.57,204.39 L395.67,203.80 L395.78,203.21 L395.88,202.62 L395.99,202.03 L396.09,201.44 L396.20,200.85 L396.30,200.26 L396.40,199.67 L396.50,199.07 L396.60,198.48 L396.71,197.89 L396.81,197.30 L396.91,196.71 L397.01,196.12 L397.10,195.53 L397.20,194.94 L397.30,194.35 L397.40,193.76 L397.50,193.16 L397.59,192.57 L397.69,191.98 L397.79,191.39 L397.88,190.80 L397.98,190.21 L398.07,189.61 L398.17,189.02 L398.26,188.43 L398.36,187.84 L398.45,187.25 L398.54,186.65 L398.64,186.06 L398.73,185.47 L398.82,184.88 L398.91,184.29 L399.00,183.69 L399.10,183.10 L399.19,182.51 L399.28,181.92 L399.37,181.32 L399.46,180.73 L399.55,180.14 L399.64,179.55 L399.73,178.95 L399.82,178.36 L399.90,177.77 L399.99,177.18 L400.08,176.58 L400.17,175.99 L400.26,175.40 L400.34,174.80 L400.43,174.21 L400.52,173.62 L400.61,173.02 L400.69,172.43 L400.78,171.84 L400.86,171.25 L400.95,170.65 L401.04,170.06 L401.12,169.47 L401.21,168.87 L401.29,168.28 L401.38,167.69 L401.46,167.09 L401.55,166.50 L401.63,165.91 L401.72,165.31 L401.80,164.72 L401.89,164.13 L401.97,163.53 L402.06,162.94 L402.14,162.35 L402.22,161.75 L402.31,161.16 L402.39,160.57 L402.48,159.97 L402.56,159.38 L402.64,158.79 L402.73,158.19 L402.81,157.60 L402.89,157.00 L402.98,156.41 L403.06,155.82 L403.14,155.22 L403.23,154.63 L403.31,154.04 L403.40,153.44 L403.48,152.85 L403.56,152.26 L403.65,151.66 L403.73,151.07 L403.81,150.48 L403.90,149.88 L403.98,149.29 L404.06,148.70 L404.15,148.10 L404.23,147.51 L404.32,146.92 L404.40,146.32 L404.48,145.73 L404.57,145.14 L404.65,144.54 L404.74,143.95 L404.82,143.36 L404.91,142.76 L404.99,142.17 L405.08,141.58 L405.16,140.98 L405.25,140.39 L405.33,139.80 L405.42,139.20 L405.50,138.61 L405.59,138.02 L405.67,137.42 L405.76,136.83 L405.85,136.24 L405.93,135.64 L406.02,135.05 L406.11,134.46 L406.19,133.86 L406.28,133.27 L406.37,132.68 L406.46,132.09 L406.54,131.49 L406.63,130.90 L406.72,130.31 L406.81,129.71 L406.90,129.12 L406.99,128.53 L407.08,127.94 L407.17,127.34 L407.26,126.75 L407.35,126.16 L407.44,125.57 L407.53,124.97 L407.62,124.38 L407.71,123.79 L407.80,123.20 L407.90,122.60 L407.99,122.01 L408.08,121.42 L408.17,120.83 L408.26,120.24 L408.36,119.64 L408.45,119.05 L408.54,118.46 L408.64,117.87 L408.73,117.28 L408.83,116.68 L408.92,116.09 L409.02,115.50 L409.11,114.91 L409.21,114.32 L409.30,113.72 L409.40,113.13 L409.49,112.54 L409.59,111.95 L409.69,111.36 L409.78,110.77 L409.88,110.18 L409.98,109.58 L410.07,108.99 L410.17,108.40 L410.27,107.81 L410.37,107.22 L410.46,106.63 L410.56,106.04 L410.66,105.44 L410.76,104.85 L410.86,104.26 L410.96,103.67 L411.06,103.08 L411.16,102.49 L411.26,101.90 L411.36,101.31 L411.46,100.72 L411.56,100.13 L411.66,99.53 L411.76,98.94 L411.86,98.35 L411.96,97.76 L412.06,97.17 L412.16,96.58 L412.27,95.99 L412.37,95.40 L412.47,94.81 L412.57,94.22 L412.67,93.63 L412.78,93.04 L412.88,92.45 L412.98,91.86 L413.09,91.27 L413.19,90.68 L413.29,90.09 L413.40,89.50 L413.50,88.90 L413.61,88.31 L413.71,87.72 L413.82,87.13 L413.92,86.54 L414.03,85.95 L414.13,85.36 L414.24,84.77 L414.34,84.18 L414.45,83.59 L414.55,83.00 L414.66,82.41 L414.77,81.82 L414.87,81.23 L414.98,80.64 L415.09,80.06 L415.19,79.47 L415.30,78.88 L415.41,78.29 L415.51,77.70 L415.62,77.11 L415.73,76.52 L415.84,75.93 L415.95,75.34 L416.05,74.75 L416.16,74.16 L416.27,73.57 L416.38,72.98 L416.49,72.39 L416.60,71.80 L416.71,71.21 L416.82,70.62 L416.93,70.03 L417.04,69.44 L417.15,68.86 L417.26,68.27 L417.37,67.68 L417.48,67.09 L417.59,66.50 L417.70,65.91 L417.81,65.32 L417.92,64.73 L418.03,64.14 L418.14,63.55 L418.26,62.97 L418.37,62.38 L418.49,61.79 L418.60,61.20 L418.72,60.61 L418.83,60.02 L418.95,59.44 L419.07,58.85 L419.19,58.26 L419.31,57.68 L419.43,57.09 L419.56,56.50 L419.68,55.92 L419.81,55.33 L419.94,54.74 L420.06,54.16 L420.19,53.57 L420.33,52.99 L420.46,52.41 L420.60,51.82 L420.73,51.24 L420.87,50.65 L421.01,50.07 L421.16,49.49 L421.30,48.91 L421.45,48.33 L421.60,47.75 L421.75,47.17 L421.90,46.59 L422.06,46.01 L422.22,45.43 L422.38,44.85 L422.54,44.28 L422.71,43.70 L422.87,43.13 L423.05,42.55 L423.22,41.98 L423.40,41.41 L423.58,40.83 L423.76,40.26 L423.95,39.69 L424.13,39.12 L424.33,38.56 L424.52,37.99 L424.72,37.42 L424.92,36.86 L425.12,36.29 L425.33,35.73 L425.54,35.17 L425.75,34.61 L425.97,34.05 L426.19,33.49 L426.41,32.94 L426.63,32.38 L426.86,31.83 L427.09,31.27 L427.33,30.72 L427.56,30.17 L427.80,29.62 L428.04,29.07 L428.29,28.53 L428.54,27.98 L428.79,27.44 L429.04,26.89 L429.30,26.35 L429.56,25.81 L429.83,25.28 L430.10,24.74 L430.39,24.22 L430.69,23.70 L431.00,23.19 L431.33,22.69 L431.68,22.20 L432.05,21.73 L432.45,21.28 L432.88,20.86 L433.34,20.48 L433.83,20.13 L434.34,19.83 L434.89,19.58 L435.46,19.40 L436.05,19.27 L436.64,19.20 L437.24,19.17 L437.84,19.21 L438.43,19.29 L439.02,19.41 L439.59,19.59 L440.14,19.82 L440.68,20.09 L441.19,20.41 L441.67,20.76 L442.14,21.13 L442.59,21.53 L443.03,21.94 L443.45,22.36 L443.87,22.79 L444.28,23.23 L444.67,23.68 L445.06,24.14 L445.43,24.61 L445.80,25.08 L446.16,25.56 L446.50,26.05 L446.84,26.54 L447.17,27.04 L447.49,27.55 L447.81,28.06 L448.12,28.58 L448.42,29.09 L448.71,29.62 L449.00,30.14 L449.28,30.67 L449.55,31.20 L449.82,31.74 L450.09,32.28 L450.35,32.82 L450.61,33.36 L450.87,33.90 L451.12,34.44 L451.37,34.99 L451.62,35.53 L451.86,36.08 L452.11,36.63 L452.35,37.17 L452.59,37.72 L452.84,38.27 L453.08,38.82 L453.32,39.37 L453.57,39.91 L453.81,40.46 L454.05,41.01 L454.30,41.56 L454.54,42.10 L454.78,42.65 L455.03,43.20 L455.27,43.75 L455.52,44.29 L455.76,44.84 L456.01,45.39 L456.25,45.93 L456.50,46.48 L456.74,47.03 L456.99,47.58 L457.23,48.12 L457.48,48.67 L457.72,49.22 L457.97,49.76 L458.22,50.31 L458.46,50.85 L458.71,51.40 L458.96,51.95 L459.20,52.49 L459.45,53.04 L459.70,53.58 L459.95,54.13 L460.20,54.68 L460.44,55.22 L460.69,55.77 L460.94,56.31 L461.19,56.86 L461.44,57.40 L461.69,57.94 L461.94,58.49 L462.20,59.03 L462.45,59.58 L462.70,60.12 L462.95,60.66 L463.20,61.21 L463.46,61.75 L463.71,62.29 L463.96,62.84 L464.22,63.38 L464.47,63.92 L464.73,64.47 L464.98,65.01 L465.24,65.55 L465.50,66.09 L465.75,66.63 L466.01,67.17 L466.27,67.71 L466.53,68.26 L466.79,68.80 L467.04,69.34 L467.30,69.88 L467.56,70.42 L467.83,70.96 L468.09,71.50 L468.35,72.04 L468.61,72.57 L468.87,73.11 L469.14,73.65 L469.40,74.19 L469.66,74.73 L469.93,75.26 L470.20,75.80 L470.46,76.34 L470.73,76.88 L471.00,77.41 L471.26,77.95 L471.53,78.48 L471.80,79.02 L472.07,79.56 L472.34,80.09 L472.61,80.62 L472.88,81.16 L473.16,81.69 L473.43,82.23 L473.70,82.76 L473.98,83.29 L474.25,83.83 L474.53,84.36 L474.80,84.89 L475.08,85.42 L475.35,85.95 L475.63,86.48 L475.91,87.02 L476.19,87.55 L476.47,88.08 L476.75,88.61 L477.03,89.13 L477.31,89.66 L477.60,90.19 L477.88,90.72 L478.17,91.25 L478.45,91.77 L478.74,92.30 L479.03,92.82 L479.32,93.35 L479.61,93.87 L479.91,94.39 L480.20,94.91 L480.50,95.43 L480.80,95.95 L481.11,96.47 L481.41,96.98 L481.72,97.50 L482.03,98.01 L482.35,98.52 L482.66,99.03 L482.98,99.54 L483.30,100.04 L483.63,100.55 L483.96,101.05 L484.29,101.54 L484.63,102.04 L484.97,102.53 L485.31,103.02 L485.66,103.51 L486.02,104.00 L486.37,104.48 L486.73,104.96 L487.10,105.43 L487.47,105.90 L487.84,106.37 L488.22,106.83 L488.61,107.29 L489.00,107.75 L489.39,108.20 L489.79,108.65 L490.20,109.09 L490.61,109.52 L491.03,109.95 L491.45,110.38 L491.88,110.80 L492.31,111.21 L492.75,111.62 L493.19,112.02 L493.64,112.42 L494.10,112.81 L494.56,113.19 L495.03,113.56 L495.50,113.93 L495.98,114.29 L496.47,114.64 L496.96,114.98 L497.46,115.32 L497.96,115.65 L498.47,115.96 L498.98,116.27 L499.50,116.58 L500.02,116.87 L500.55,117.16 L501.08,117.44 L501.61,117.71 L502.15,117.98 L502.69,118.23 L503.23,118.49 L503.78,118.73 L504.33,118.97 L504.88,119.20 L505.44,119.43 L505.99,119.65 L506.55,119.86 L507.12,120.07 L507.68,120.27 L508.25,120.47 L508.81,120.67 L509.38,120.85 L509.95,121.04 L510.53,121.21 L511.10,121.39 L511.67,121.56 L512.25,121.72 L512.83,121.88 L513.41,122.04 L513.99,122.19 L514.57,122.34 L515.15,122.49 L515.73,122.63 L516.31,122.77 L516.90,122.91 L517.48,123.04 L518.07,123.17 L518.65,123.30 L519.24,123.42 L519.82,123.54 L520.41,123.66 L521.00,123.77 L521.59,123.88 L522.18,123.99 L522.77,124.10 L523.36,124.20 L523.95,124.30 L524.54,124.40 L525.13,124.49 L525.73,124.58 L526.32,124.67 L526.91,124.75 L527.51,124.84 L528.10,124.92 L528.70,124.99 L529.29,125.07 L529.88,125.14 L530.48,125.21 L531.08,125.28 L531.67,125.34 L532.27,125.40 L532.86,125.46 L533.46,125.52 L534.06,125.58 L534.65,125.63 L535.25,125.68 L535.85,125.73 L536.45,125.77 L537.04,125.82 L537.64,125.86 L538.24,125.90 L538.84,125.94 L539.44,125.98 L540.03,126.01 L540.63,126.04 L541.23,126.07 L541.83,126.10 L542.43,126.13 L543.03,126.15 L543.63,126.18 L544.23,126.20 L544.83,126.22 L545.42,126.24 L546.02,126.25 L546.62,126.27 L547.22,126.28 L547.82,126.30 L548.42,126.31 L549.02,126.32 L549.62,126.33 L550.22,126.33 L550.82,126.34 L551.42,126.35 L552.02,126.35 L552.62,126.35 L553.21,126.36 L553.81,126.36 L554.41,126.36 L555.01,126.36 L555.61,126.35 L556.21,126.35 L556.81,126.35 L557.41,126.34 L558.01,126.34 L558.61,126.33 L559.21,126.33 L559.81,126.32 L560.41,126.31 L561.01,126.30 L561.61,126.29 L562.20,126.29 L562.80,126.28 L563.40,126.27 L564.00,126.25 L564.60,126.24 L565.20,126.23 L565.80,126.22 L566.40,126.21 L567.00,126.19 L567.60,126.18 L568.20,126.16 L568.80,126.15 L569.40,126.13 L569.99,126.12 L570.59,126.10 L571.19,126.08 L571.79,126.07 L572.39,126.05 L572.99,126.03 L573.59,126.01 L574.19,125.99 L574.79,125.97 L575.39,125.95 L575.98,125.93 L576.58,125.91 L577.18,125.89 L577.78,125.86 L578.38,125.84 L578.98,125.82 L579.58,125.79 L580.18,125.77 L580.78,125.74 L581.38,125.72 L581.97,125.69 L582.57,125.67 L583.17,125.64 L583.77,125.61 L584.37,125.59 L584.97,125.56 L585.57,125.53 L586.16,125.50 L586.76,125.47 L587.36,125.44 L587.96,125.41 L588.56,125.38 L589.16,125.35 L589.76,125.32 L590.35,125.29 L590.95,125.26 L591.55,125.22 L592.15,125.19 L592.75,125.16 L593.35,125.12 L593.95,125.09 L594.54,125.06 L595.14,125.02 L595.74,124.99 L596.34,124.95 L596.94,124.91 L597.54,124.88 L598.13,124.84 L598.73,124.80 L599.33,124.77 L599.93,124.73 L600.53,124.69 L601.12,124.65 L601.72,124.61 L602.32,124.57 L602.92,124.53 L603.52,124.49 L604.11,124.45 L604.71,124.41 L605.31,124.37 L605.91,124.33 L606.51,124.29 L607.10,124.25 L607.70,124.21 L608.30,124.16 L608.90,124.12 L609.50,124.08 L610.09,124.03 L610.69,123.99 L611.29,123.94 L611.89,123.90 L612.48,123.86 L613.08,123.81 L613.68,123.77 L614.28,123.72 L614.87,123.67 L615.47,123.63 L616.07,123.58 L616.67,123.53 L617.26,123.49 L617.86,123.44 L618.46,123.39 L619.06,123.34 L619.65,123.30 L620.25,123.25 L620.85,123.20 L621.45,123.15 L622.04,123.10 L622.64,123.05 L623.24,123.00 L623.84,122.95 L624.43,122.90 L625.03,122.85 L625.63,122.80 L626.22,122.75 L626.82,122.70 L627.42,122.65 L628.02,122.59 L628.61,122.54 L629.21,122.49 L629.81,122.44 L630.40,122.38 L631.00,122.33 L631.60,122.28 L632.20,122.23 L632.79,122.17 L633.39,122.12 L633.99,122.07 L634.58,122.01 L635.18,121.96 L635.78,121.90 L636.37,121.85 L636.97,121.79 L637.57,121.74 L638.16,121.68 L638.76,121.63 L639.36,121.57 L639.95,121.52 L640.55,121.46 L641.15,121.40 L641.75,121.35 L642.34,121.29 L642.94,121.24 L643.54,121.18 L644.13,121.12 L644.73,121.07 L645.33,121.01 L645.92,120.95 L646.52,120.89 L647.11,120.84 L647.71,120.78 L648.31,120.72 L648.90,120.66 L649.50,120.61 L650.10,120.55 L650.69,120.49 L651.29,120.43 L651.89,120.37 L652.48,120.31 L653.08,120.26 L653.68,120.20 L654.27,120.14 L654.87,120.08 L655.47,120.02 L656.06,119.96 L656.66,119.90 L657.26,119.84 L657.85,119.78 L658.45,119.72 L659.04,119.66 L659.64,119.60 L660.24,119.54 L660.83,119.48 L661.43,119.42 L662.03,119.36 L662.62,119.30 L663.22,119.24 L663.82,119.18 L664.41,119.12 L665.01,119.06 L665.60,119.00 L666.20,118.94 L666.80,118.88 L667.39,118.82 L667.99,118.76 L668.59,118.70 L669.18,118.64 L669.78,118.58 L670.37,118.52 L670.97,118.46" stroke="#a3a3a3" stroke-width="1.9" fill="none"/>
<path d="M384.90,159.79 L385.19,159.26 L385.47,158.73 L385.75,158.21 L386.03,157.68 L386.32,157.15 L386.60,156.62 L386.89,156.10 L387.18,155.57 L387.46,155.04 L387.75,154.52 L388.03,153.99 L388.32,153.46 L388.60,152.93 L388.88,152.41 L389.16,151.88 L389.44,151.35 L389.72,150.82 L390.00,150.29 L390.28,149.75 L390.55,149.22 L390.82,148.69 L391.09,148.15 L391.35,147.61 L391.62,147.08 L391.88,146.54 L392.13,145.99 L392.39,145.45 L392.64,144.91 L392.88,144.36 L393.13,143.81 L393.36,143.26 L393.60,142.71 L393.82,142.16 L394.05,141.60 L394.26,141.04 L394.48,140.48 L394.68,139.92 L394.89,139.36 L395.08,138.79 L395.28,138.22 L395.47,137.66 L395.66,137.09 L395.85,136.52 L396.04,135.95 L396.23,135.38 L396.42,134.81 L396.61,134.24 L396.80,133.68 L396.99,133.11 L397.19,132.54 L397.39,131.98 L397.59,131.42 L397.80,130.85 L398.01,130.29 L398.23,129.74 L398.46,129.18 L398.69,128.63 L398.94,128.08 L399.18,127.54 L399.44,127.00 L399.70,126.46 L399.98,125.92 L400.26,125.40 L400.55,124.87 L400.85,124.35 L401.16,123.84 L401.48,123.33 L401.81,122.83 L402.14,122.34 L402.49,121.85 L402.85,121.36 L403.21,120.89 L403.58,120.42 L403.97,119.96 L404.36,119.51 L404.76,119.07 L405.18,118.63 L405.60,118.21 L406.04,117.80 L406.48,117.40 L406.94,117.01 L407.41,116.64 L407.89,116.28 L408.38,115.94 L408.89,115.61 L409.40,115.31 L409.93,115.02 L410.47,114.76 L411.02,114.52 L411.58,114.31 L412.15,114.13 L412.73,113.97 L413.31,113.85 L413.91,113.76 L414.50,113.70 L415.10,113.68 L415.70,113.69 L416.30,113.73 L416.89,113.80 L417.48,113.90 L418.07,114.02 L418.65,114.17 L419.23,114.33 L419.80,114.51 L420.36,114.71 L420.93,114.92 L421.48,115.14 L422.03,115.38 L422.58,115.62 L423.12,115.88 L423.66,116.14 L424.19,116.41 L424.72,116.69 L425.25,116.98 L425.78,117.27 L426.30,117.56 L426.82,117.86 L427.33,118.16 L427.85,118.47 L428.36,118.77 L428.87,119.09 L429.39,119.40 L429.90,119.71 L430.41,120.03 L430.91,120.34 L431.42,120.66 L431.93,120.97 L432.44,121.29 L432.96,121.60 L433.47,121.91 L433.99,122.21 L434.50,122.52 L435.02,122.81 L435.54,123.11 L436.07,123.40 L436.60,123.68 L437.13,123.95 L437.67,124.22 L438.21,124.48 L438.75,124.74 L439.30,124.98 L439.85,125.22 L440.40,125.44 L440.96,125.66 L441.52,125.87 L442.09,126.07 L442.66,126.25 L443.23,126.43 L443.80,126.60 L444.38,126.76 L444.96,126.91 L445.54,127.06 L446.13,127.19 L446.71,127.31 L447.30,127.42 L447.89,127.52 L448.48,127.61 L449.08,127.70 L449.67,127.77 L450.27,127.83 L450.87,127.87 L451.46,127.91 L452.06,127.94 L452.66,127.95 L453.26,127.95 L453.86,127.94 L454.46,127.91 L455.06,127.87 L455.65,127.82 L456.25,127.76 L456.84,127.68 L457.43,127.59 L458.02,127.48 L458.61,127.36 L459.20,127.23 L459.78,127.09 L460.36,126.94 L460.94,126.78 L461.51,126.60 L462.08,126.42 L462.64,126.22 L463.21,126.01 L463.77,125.80 L464.32,125.57 L464.87,125.34 L465.42,125.10 L465.97,124.85 L466.51,124.59 L467.05,124.33 L467.58,124.06 L468.11,123.78 L468.64,123.50 L469.16,123.21 L469.69,122.91 L470.20,122.61 L470.72,122.31 L471.23,122.00 L471.74,121.69 L472.25,121.37 L472.76,121.05 L473.26,120.72 L473.76,120.39 L474.26,120.06 L474.76,119.72 L475.25,119.39 L475.75,119.05 L476.24,118.71 L476.73,118.36 L477.22,118.02 L477.71,117.67 L478.19,117.32 L478.68,116.97 L479.17,116.62 L479.65,116.27 L480.14,115.92 L480.63,115.57 L481.11,115.22 L481.60,114.87 L482.08,114.52 L482.57,114.17 L483.05,113.82 L483.54,113.47 L484.03,113.12 L484.51,112.77 L485.00,112.42 L485.49,112.07 L485.97,111.72 L486.46,111.37 L486.95,111.02 L487.44,110.68 L487.93,110.33 L488.42,109.99 L488.91,109.64 L489.40,109.30 L489.89,108.96 L490.38,108.61 L490.88,108.27 L491.37,107.94 L491.86,107.60 L492.36,107.26 L492.86,106.93 L493.35,106.59 L493.85,106.26 L494.35,105.93 L494.85,105.60 L495.35,105.27 L495.86,104.94 L496.36,104.62 L496.87,104.30 L497.37,103.98 L497.88,103.66 L498.39,103.34 L498.90,103.03 L499.41,102.71 L499.92,102.40 L500.43,102.09 L500.95,101.79 L501.47,101.49 L501.99,101.19 L502.51,100.89 L503.03,100.60 L503.55,100.30 L504.08,100.02 L504.61,99.73 L505.14,99.45 L505.67,99.18 L506.20,98.91 L506.74,98.64 L507.28,98.37 L507.82,98.12 L508.36,97.86 L508.90,97.61 L509.45,97.37 L510.00,97.13 L510.55,96.89 L511.10,96.66 L511.66,96.44 L512.22,96.22 L512.78,96.01 L513.34,95.80 L513.90,95.60 L514.47,95.40 L515.04,95.21 L515.61,95.02 L516.18,94.84 L516.75,94.66 L517.32,94.49 L517.90,94.32 L518.48,94.16 L519.05,94.00 L519.63,93.85 L520.21,93.70 L520.80,93.56 L521.38,93.42 L521.96,93.29 L522.55,93.16 L523.13,93.03 L523.72,92.91 L524.31,92.79 L524.90,92.68 L525.48,92.57 L526.07,92.47 L526.67,92.37 L527.26,92.27 L527.85,92.18 L528.44,92.09 L529.03,92.00 L529.63,91.92 L530.22,91.85 L530.82,91.77 L531.41,91.70 L532.01,91.64 L532.60,91.57 L533.20,91.52 L533.80,91.46 L534.39,91.41 L534.99,91.36 L535.59,91.31 L536.19,91.27 L536.78,91.23 L537.38,91.19 L537.98,91.16 L538.58,91.13 L539.18,91.10 L539.78,91.07 L540.37,91.05 L540.97,91.03 L541.57,91.01 L542.17,91.00 L542.77,90.98 L543.37,90.97 L543.97,90.97 L544.57,90.96 L545.17,90.96 L545.77,90.96 L546.36,90.96 L546.96,90.96 L547.56,90.97 L548.16,90.98 L548.76,90.99 L549.36,91.00 L549.96,91.01 L550.56,91.03 L551.16,91.04 L551.76,91.06 L552.35,91.08 L552.95,91.11 L553.55,91.13 L554.15,91.16 L554.75,91.18 L555.35,91.21 L555.95,91.25 L556.54,91.28 L557.14,91.31 L557.74,91.35 L558.34,91.39 L558.94,91.43 L559.53,91.47 L560.13,91.51 L560.73,91.55 L561.33,91.60 L561.92,91.65 L562.52,91.70 L563.12,91.75 L563.72,91.80 L564.31,91.85 L564.91,91.91 L565.51,91.97 L566.10,92.02 L566.70,92.08 L567.29,92.14 L567.89,92.21 L568.49,92.27 L569.08,92.34 L569.68,92.40 L570.27,92.47 L570.87,92.54 L571.46,92.61 L572.06,92.68 L572.65,92.76 L573.25,92.83 L573.84,92.91 L574.43,92.99 L575.03,93.06 L575.62,93.14 L576.22,93.22 L576.81,93.31 L577.40,93.39 L578.00,93.48 L578.59,93.56 L579.18,93.65 L579.77,93.74 L580.37,93.83 L580.96,93.92 L581.55,94.01 L582.14,94.10 L582.74,94.19 L583.33,94.29 L583.92,94.38 L584.51,94.48 L585.10,94.58 L585.69,94.68 L586.28,94.78 L586.87,94.88 L587.46,94.98 L588.05,95.08 L588.64,95.19 L589.23,95.29 L589.82,95.40 L590.41,95.50 L591.00,95.61 L591.59,95.72 L592.18,95.83 L592.77,95.94 L593.36,96.05 L593.95,96.16 L594.54,96.27 L595.12,96.39 L595.71,96.50 L596.30,96.61 L596.89,96.73 L597.48,96.84 L598.06,96.96 L598.65,97.08 L599.24,97.20 L599.83,97.31 L600.41,97.43 L601.00,97.55 L601.59,97.67 L602.18,97.80 L602.76,97.92 L603.35,98.04 L603.94,98.16 L604.52,98.29 L605.11,98.41 L605.69,98.53 L606.28,98.66 L606.87,98.78 L607.45,98.91 L608.04,99.04 L608.62,99.16 L609.21,99.29 L609.79,99.42 L610.38,99.55 L610.96,99.67 L611.55,99.80 L612.13,99.93 L612.72,100.06 L613.30,100.19 L613.89,100.32 L614.47,100.45 L615.06,100.58 L615.64,100.71 L616.23,100.85 L616.81,100.98 L617.40,101.11 L617.98,101.24 L618.57,101.37 L619.15,101.50 L619.73,101.64 L620.32,101.77 L620.90,101.90 L621.49,102.04 L622.07,102.17 L622.66,102.30 L623.24,102.44 L623.82,102.57 L624.41,102.70 L624.99,102.84 L625.58,102.97 L626.16,103.10 L626.74,103.24 L627.33,103.37 L627.91,103.50 L628.50,103.64 L629.08,103.77 L629.67,103.91 L630.25,104.04 L630.83,104.17 L631.42,104.31 L632.00,104.44 L632.59,104.57 L633.17,104.70 L633.75,104.84 L634.34,104.97 L634.92,105.10 L635.51,105.23 L636.09,105.37 L636.68,105.50 L637.26,105.63 L637.85,105.76 L638.43,105.89 L639.02,106.02 L639.60,106.15 L640.18,106.28 L640.77,106.41 L641.35,106.54 L641.94,106.67 L642.53,106.80 L643.11,106.93 L643.70,107.06 L644.28,107.18 L644.87,107.31 L645.45,107.44 L646.04,107.57 L646.62,107.69 L647.21,107.82 L647.80,107.94 L648.38,108.07 L648.97,108.19 L649.55,108.31 L650.14,108.44 L650.73,108.56 L651.31,108.68 L651.90,108.80 L652.49,108.92 L653.07,109.04 L653.66,109.16 L654.25,109.28 L654.84,109.40 L655.42,109.51 L656.01,109.63 L656.60,109.75 L657.19,109.86 L657.78,109.98 L658.36,110.09 L658.95,110.20 L659.54,110.32 L660.13,110.43 L660.72,110.54 L661.31,110.65 L661.90,110.76 L662.49,110.87 L663.08,110.97 L663.67,111.08 L664.26,111.18 L664.85,111.29 L665.44,111.39 L666.03,111.50 L666.62,111.60 L667.21,111.70 L667.80,111.80 L668.39,111.90 L668.98,112.00 L669.57,112.09 L670.16,112.19 L670.75,112.28" stroke="#1616c0" stroke-width="2" fill="none"/>
<path d="M384.79,119.81 L385.04,119.27 L385.30,118.73 L385.55,118.18 L385.80,117.64 L386.05,117.09 L386.29,116.54 L386.54,116.00 L386.78,115.45 L387.02,114.90 L387.26,114.35 L387.50,113.80 L387.74,113.25 L387.97,112.70 L388.21,112.15 L388.44,111.60 L388.67,111.04 L388.91,110.49 L389.14,109.94 L389.37,109.38 L389.60,108.83 L389.82,108.28 L390.05,107.72 L390.28,107.17 L390.51,106.61 L390.74,106.06 L390.97,105.51 L391.20,104.95 L391.43,104.40 L391.66,103.85 L391.89,103.29 L392.12,102.74 L392.36,102.19 L392.59,101.64 L392.83,101.09 L393.06,100.53 L393.30,99.98 L393.54,99.44 L393.78,98.89 L394.03,98.34 L394.27,97.79 L394.52,97.25 L394.76,96.70 L395.01,96.15 L395.27,95.61 L395.52,95.07 L395.78,94.53 L396.03,93.98 L396.29,93.44 L396.56,92.91 L396.83,92.37 L397.10,91.84 L397.38,91.31 L397.68,90.79 L397.98,90.27 L398.30,89.76 L398.63,89.26 L398.98,88.77 L399.35,88.30 L399.74,87.85 L400.16,87.42 L400.60,87.02 L401.08,86.66 L401.59,86.34 L402.13,86.08 L402.70,85.89 L403.28,85.76 L403.88,85.70 L404.48,85.70 L405.07,85.76 L405.66,85.89 L406.23,86.08 L406.78,86.32 L407.30,86.61 L407.79,86.95 L408.25,87.34 L408.69,87.75 L409.09,88.19 L409.47,88.65 L409.84,89.13 L410.18,89.62 L410.51,90.12 L410.83,90.63 L411.13,91.15 L411.43,91.67 L411.72,92.19 L412.01,92.72 L412.29,93.24 L412.58,93.77 L412.86,94.30 L413.14,94.83 L413.42,95.36 L413.70,95.89 L413.97,96.42 L414.25,96.96 L414.53,97.49 L414.80,98.02 L415.08,98.55 L415.36,99.08 L415.63,99.62 L415.91,100.15 L416.18,100.68 L416.46,101.21 L416.73,101.74 L417.01,102.28 L417.29,102.81 L417.57,103.34 L417.85,103.87 L418.13,104.40 L418.41,104.93 L418.69,105.46 L418.97,105.98 L419.26,106.51 L419.55,107.04 L419.84,107.56 L420.13,108.09 L420.42,108.61 L420.72,109.13 L421.02,109.65 L421.32,110.17 L421.62,110.68 L421.93,111.20 L422.24,111.71 L422.55,112.22 L422.87,112.73 L423.19,113.24 L423.51,113.75 L423.83,114.25 L424.16,114.75 L424.49,115.25 L424.83,115.75 L425.17,116.24 L425.51,116.73 L425.86,117.22 L426.21,117.71 L426.57,118.19 L426.92,118.67 L427.29,119.15 L427.66,119.62 L428.03,120.09 L428.41,120.55 L428.80,121.01 L429.19,121.46 L429.59,121.91 L429.99,122.35 L430.41,122.78 L430.83,123.21 L431.27,123.62 L431.71,124.03 L432.16,124.42 L432.62,124.81 L433.09,125.18 L433.57,125.53 L434.06,125.87 L434.57,126.20 L435.08,126.51 L435.60,126.80 L436.14,127.07 L436.68,127.32 L437.24,127.55 L437.80,127.75 L438.37,127.94 L438.95,128.10 L439.53,128.24 L440.12,128.36 L440.71,128.46 L441.30,128.54 L441.90,128.61 L442.50,128.65 L443.10,128.68 L443.70,128.70 L444.30,128.69 L444.89,128.68 L445.49,128.64 L446.09,128.60 L446.69,128.54 L447.28,128.46 L447.87,128.38 L448.47,128.28 L449.06,128.17 L449.64,128.06 L450.23,127.94 L450.82,127.81 L451.40,127.67 L451.98,127.53 L452.56,127.39 L453.15,127.24 L453.73,127.09 L454.31,126.94 L454.89,126.79 L455.47,126.64 L456.05,126.49 L456.63,126.35 L457.21,126.20 L457.79,126.06 L458.38,125.91 L458.96,125.77 L459.54,125.63 L460.12,125.49 L460.71,125.35 L461.29,125.22 L461.87,125.08 L462.46,124.95 L463.04,124.82 L463.63,124.69 L464.21,124.56 L464.80,124.43 L465.38,124.30 L465.97,124.18 L466.56,124.05 L467.14,123.93 L467.73,123.81 L468.32,123.69 L468.91,123.58 L469.50,123.46 L470.08,123.35 L470.67,123.24 L471.26,123.13 L471.85,123.02 L472.44,122.92 L473.03,122.82 L473.62,122.71 L474.22,122.61 L474.81,122.52 L475.40,122.42 L475.99,122.33 L476.58,122.23 L477.18,122.14 L477.77,122.05 L478.36,121.97 L478.95,121.88 L479.55,121.80 L480.14,121.72 L480.74,121.64 L481.33,121.56 L481.92,121.48 L482.52,121.41 L483.11,121.34 L483.71,121.26 L484.30,121.20 L484.90,121.13 L485.50,121.06 L486.09,121.00 L486.69,120.93 L487.28,120.87 L487.88,120.81 L488.48,120.76 L489.07,120.70 L489.67,120.65 L490.27,120.59 L490.87,120.54 L491.46,120.49 L492.06,120.44 L492.66,120.40 L493.26,120.35 L493.85,120.31 L494.45,120.27 L495.05,120.23 L495.65,120.19 L496.25,120.15 L496.84,120.11 L497.44,120.08 L498.04,120.05 L498.64,120.01 L499.24,119.98 L499.84,119.96 L500.44,119.93 L501.03,119.90 L501.63,119.88 L502.23,119.86 L502.83,119.83 L503.43,119.81 L504.03,119.79 L504.63,119.78 L505.23,119.76 L505.83,119.75 L506.43,119.73 L507.03,119.72 L507.63,119.71 L508.22,119.70 L508.82,119.69 L509.42,119.69 L510.02,119.68 L510.62,119.68 L511.22,119.67 L511.82,119.67 L512.42,119.67 L513.02,119.67 L513.62,119.67 L514.22,119.68 L514.82,119.68 L515.42,119.69 L516.02,119.69 L516.62,119.70 L517.22,119.71 L517.81,119.72 L518.41,119.73 L519.01,119.74 L519.61,119.76 L520.21,119.77 L520.81,119.79 L521.41,119.80 L522.01,119.82 L522.61,119.84 L523.21,119.86 L523.81,119.88 L524.41,119.90 L525.00,119.93 L525.60,119.95 L526.20,119.97 L526.80,120.00 L527.40,120.03 L528.00,120.06 L528.60,120.08 L529.20,120.11 L529.79,120.15 L530.39,120.18 L530.99,120.21 L531.59,120.24 L532.19,120.28 L532.79,120.31 L533.39,120.35 L533.98,120.39 L534.58,120.42 L535.18,120.46 L535.78,120.50 L536.38,120.54 L536.97,120.59 L537.57,120.63 L538.17,120.67 L538.77,120.71 L539.37,120.76 L539.96,120.80 L540.56,120.85 L541.16,120.90 L541.76,120.94 L542.35,120.99 L542.95,121.04 L543.55,121.09 L544.15,121.14 L544.74,121.19 L545.34,121.24 L545.94,121.30 L546.53,121.35 L547.13,121.40 L547.73,121.45 L548.33,121.51 L548.92,121.56 L549.52,121.62 L550.12,121.67 L550.71,121.73 L551.31,121.78 L551.91,121.84 L552.50,121.89 L553.10,121.95 L553.70,122.01 L554.29,122.06 L554.89,122.12 L555.49,122.18 L556.08,122.23 L556.68,122.29 L557.28,122.35 L557.87,122.40 L558.47,122.46 L559.07,122.52 L559.66,122.57 L560.26,122.63 L560.86,122.69 L561.45,122.74 L562.05,122.80 L562.65,122.85 L563.25,122.91 L563.84,122.96 L564.44,123.02 L565.04,123.07 L565.63,123.13 L566.23,123.18 L566.83,123.24 L567.42,123.29 L568.02,123.34 L568.62,123.39 L569.22,123.44 L569.81,123.50 L570.41,123.55 L571.01,123.60 L571.60,123.64 L572.20,123.69 L572.80,123.74 L573.40,123.79 L573.99,123.83 L574.59,123.88 L575.19,123.92 L575.79,123.97 L576.39,124.01 L576.98,124.05 L577.58,124.10 L578.18,124.14 L578.78,124.18 L579.38,124.21 L579.97,124.25 L580.57,124.29 L581.17,124.32 L581.77,124.36 L582.37,124.39 L582.97,124.42 L583.56,124.45 L584.16,124.48 L584.76,124.51 L585.36,124.54 L585.96,124.56 L586.56,124.59 L587.16,124.61 L587.76,124.63 L588.36,124.65 L588.95,124.67 L589.55,124.69 L590.15,124.71 L590.75,124.72 L591.35,124.73 L591.95,124.74 L592.55,124.75 L593.15,124.76 L593.75,124.77 L594.35,124.77 L594.95,124.78 L595.55,124.78 L596.15,124.78 L596.75,124.77 L597.35,124.77 L597.95,124.76 L598.54,124.76 L599.14,124.75 L599.74,124.73 L600.34,124.72 L600.94,124.71 L601.54,124.69 L602.14,124.67 L602.74,124.65 L603.34,124.62 L603.94,124.60 L604.54,124.57 L605.13,124.54 L605.73,124.51 L606.33,124.48 L606.93,124.45 L607.53,124.42 L608.13,124.38 L608.72,124.34 L609.32,124.30 L609.92,124.26 L610.52,124.22 L611.12,124.18 L611.71,124.13 L612.31,124.09 L612.91,124.04 L613.51,123.99 L614.10,123.94 L614.70,123.89 L615.30,123.84 L615.90,123.78 L616.49,123.73 L617.09,123.67 L617.69,123.62 L618.28,123.56 L618.88,123.50 L619.48,123.44 L620.07,123.38 L620.67,123.32 L621.27,123.26 L621.86,123.20 L622.46,123.14 L623.05,123.07 L623.65,123.01 L624.25,122.94 L624.84,122.88 L625.44,122.81 L626.03,122.75 L626.63,122.68 L627.22,122.61 L627.82,122.54 L628.42,122.47 L629.01,122.41 L629.61,122.34 L630.20,122.27 L630.80,122.20 L631.39,122.13 L631.99,122.06 L632.58,121.99 L633.18,121.92 L633.77,121.85 L634.37,121.78 L634.96,121.71 L635.56,121.64 L636.15,121.56 L636.75,121.49 L637.34,121.42 L637.94,121.35 L638.54,121.28 L639.13,121.21 L639.73,121.14 L640.32,121.07 L640.92,121.00 L641.51,120.94 L642.11,120.87 L642.70,120.80 L643.30,120.73 L643.89,120.66 L644.49,120.60 L645.09,120.53 L645.68,120.46 L646.28,120.40 L646.87,120.34 L647.47,120.27 L648.07,120.21 L648.66,120.15 L649.26,120.08 L649.85,120.02 L650.45,119.96 L651.05,119.90 L651.64,119.84 L652.24,119.79 L652.84,119.73 L653.43,119.67 L654.03,119.62 L654.63,119.57 L655.22,119.51 L655.82,119.46 L656.42,119.41 L657.02,119.36 L657.61,119.31 L658.21,119.27 L658.81,119.22 L659.41,119.18 L660.00,119.14 L660.60,119.09 L661.20,119.05 L661.80,119.02 L662.40,118.98 L663.00,118.94 L663.59,118.91 L664.19,118.88 L664.79,118.85 L665.39,118.82 L665.99,118.79 L666.59,118.76 L667.19,118.74 L667.79,118.72 L668.38,118.70 L668.98,118.68 L669.58,118.66 L670.18,118.65 L670.78,118.64" stroke="#d81418" stroke-width="2" fill="none"/>
<g stroke-width="2">
<line x1="502" y1="15.6" x2="513.5" y2="15.6" stroke="#d81418"/>
<line x1="502" y1="31.3" x2="513.5" y2="31.3" stroke="#1616c0"/>
<line x1="502" y1="46.4" x2="513.5" y2="46.4" stroke="#a3a3a3"/>
</g>
<g font-family="Liberation Serif" font-size="10.15" fill="#222" stroke="#222" stroke-width="0.18">
<text x="520.5" y="18.9">Experimental CD of <tspan font-weight="bold">3</tspan></text>
<text x="520.5" y="35.4">Caculated ECD of 3<tspan font-style="italic">S</tspan>,4<tspan font-style="italic">R</tspan>,7<tspan font-style="italic">S</tspan>,8<tspan font-style="italic">R</tspan>,9<tspan font-style="italic">S</tspan>,16<tspan font-style="italic">S</tspan></text>
<text x="520.5" y="50.3">Caculated ECD of 3<tspan font-style="italic">R</tspan>,4<tspan font-style="italic">S</tspan>,7<tspan font-style="italic">R</tspan>,8<tspan font-style="italic">S</tspan>,9<tspan font-style="italic">R</tspan>,16<tspan font-style="italic">R</tspan></text>
</g>
<g font-family="Liberation Sans" font-weight="bold" font-size="9" fill="#111" text-anchor="end">
<text transform="translate(376,54.65) scale(1,1.05)">50</text>
<text transform="translate(376,121.10) scale(1,1.05)">0</text>
<text transform="translate(376,187.55) scale(1,1.05)">-50</text>
<text transform="translate(376,254.00) scale(1,1.05)">-100</text>
</g>
<g font-family="Liberation Sans" font-weight="bold" font-size="9" fill="#111" text-anchor="middle">
<text transform="translate(418.91,263.9) scale(1,1.08)">220</text>
<text transform="translate(464.79,263.9) scale(1,1.08)">240</text>
<text transform="translate(510.67,263.9) scale(1,1.08)">260</text>
<text transform="translate(556.55,263.9) scale(1,1.08)">280</text>
<text transform="translate(602.43,263.9) scale(1,1.08)">300</text>
<text transform="translate(648.31,263.9) scale(1,1.08)">320</text>
</g>
<text x="336.6" y="12" font-family="Liberation Serif" font-weight="bold" font-size="13" fill="#111">(B)</text>
<text x="522" y="287.2" font-family="Liberation Serif" font-size="10.2" fill="#222" text-anchor="middle">λ(nm)</text>
<text transform="translate(347.8,127.5) rotate(-90)" font-family="Liberation Serif" font-weight="bold" font-size="10.3" fill="#111" letter-spacing="-0.3" text-anchor="middle">Δε (M<tspan dy="-3.6" font-size="7.4">-1</tspan><tspan dy="3.6">cm</tspan><tspan dy="-3.6" font-size="7.4">-1</tspan><tspan dy="3.6">)</tspan></text>
</svg>
</body></html>
